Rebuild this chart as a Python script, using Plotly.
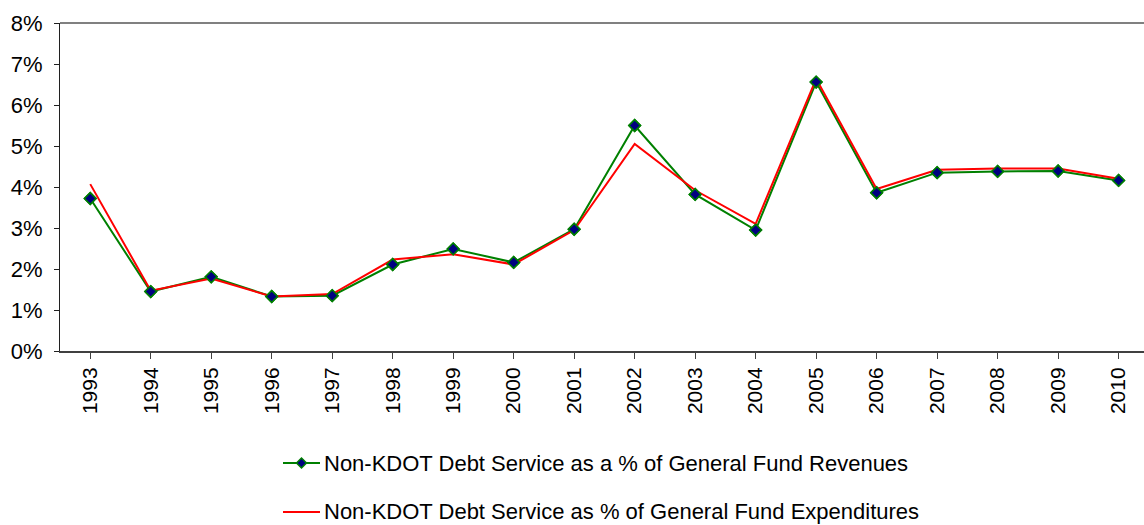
import plotly.graph_objects as go

years = ["1993", "1994", "1995", "1996", "1997", "1998", "1999", "2000", "2001",
         "2002", "2003", "2004", "2005", "2006", "2007", "2008", "2009", "2010"]
revenues_pct = [3.72, 1.45, 1.81, 1.33, 1.35, 2.11, 2.49, 2.16, 2.97,
                5.50, 3.82, 2.95, 6.56, 3.86, 4.35, 4.38, 4.39, 4.16]
expenditures_pct = [4.07, 1.47, 1.77, 1.33, 1.39, 2.23, 2.36, 2.11, 2.95,
                    5.05, 3.92, 3.10, 6.64, 3.95, 4.42, 4.45, 4.45, 4.20]
y_ticks = [0, 1, 2, 3, 4, 5, 6, 7, 8]
y_tick_labels = ["0%", "1%", "2%", "3%", "4%", "5%", "6%", "7%", "8%"]

name_rev = "Non-KDOT Debt Service as a % of General Fund Revenues"
name_exp = "Non-KDOT Debt Service as % of General Fund Expenditures"

GREEN = "#008000"
NAVY = "#000080"
RED = "#FF0000"

x_idx = list(range(len(years)))

# plot area geometry (pixels)
W, H = 1144, 525
L, R, T, B = 60, 0, 23, 174
PW, PH = W - L - R, H - T - B


def px_x(px):
    return (px - L) / PW


def px_y(py):
    return (H - B - py) / PH


fig = go.Figure()
fig.add_trace(go.Scatter(
    x=x_idx, y=revenues_pct, name=name_rev, mode="lines+markers",
    line=dict(color=GREEN, width=2),
    marker=dict(symbol="diamond", size=9, color=NAVY, line=dict(color=GREEN, width=1.5)),
    showlegend=False,
))
fig.add_trace(go.Scatter(
    x=x_idx, y=expenditures_pct, name=name_exp, mode="lines",
    line=dict(color=RED, width=2),
    showlegend=False,
))
fig.add_trace(go.Scatter(
    x=x_idx, y=revenues_pct, mode="markers", showlegend=False,
    marker=dict(symbol="diamond", size=9, color=NAVY, line=dict(color=GREEN, width=1.5)),
    hoverinfo="skip",
))

fig.update_layout(
    width=W, height=H,
    margin=dict(l=L, r=R, t=T, b=B),
    plot_bgcolor="white", paper_bgcolor="white",
    font=dict(family="Liberation Sans, Arial, sans-serif", size=21, color="black"),
    showlegend=False,
    xaxis=dict(
        range=[-0.5, 17.42], automargin=False,
        tickmode="array", tickvals=x_idx, ticktext=years,
        tickangle=-90, showgrid=False, zeroline=False,
        showline=True, linecolor="#404040", linewidth=2,
        ticks="outside", ticklen=6, tickcolor="#404040", tickwidth=1,
        tickson="boundaries",
        tickfont=dict(size=21),
    ),
    yaxis=dict(
        range=[0, 8], automargin=False,
        tickmode="array", tickvals=y_ticks, ticktext=y_tick_labels,
        showgrid=False, zeroline=False,
        showline=True, linecolor="#202020", linewidth=1,
        ticks="outside", ticklen=5, tickcolor="#202020",
        tickfont=dict(size=22), ticklabelstandoff=7,
    ),
)
# top border line of plot area
fig.add_shape(type="line", xref="paper", yref="paper", x0=0, x1=1, y0=1, y1=1,
              line=dict(color="#808080", width=2))

# legend (drawn manually to match the original layout)
legend_rows = [(name_rev, GREEN, True, 463), (name_exp, RED, False, 512)]
for text, color, has_marker, cy in legend_rows:
    fig.add_shape(type="line", xref="paper", yref="paper",
                  x0=px_x(283), x1=px_x(320), y0=px_y(cy), y1=px_y(cy),
                  line=dict(color=color, width=2))
    if has_marker:
        cx, r = 301.5, 5
        path = (f"M {px_x(cx - r)} {px_y(cy)} L {px_x(cx)} {px_y(cy - r)} "
                f"L {px_x(cx + r)} {px_y(cy)} L {px_x(cx)} {px_y(cy + r)} Z")
        fig.add_shape(type="path", xref="paper", yref="paper", path=path,
                      fillcolor=NAVY, line=dict(color=GREEN, width=1.5))
    fig.add_annotation(x=px_x(322), y=px_y(cy), xref="paper", yref="paper",
                       text=text, showarrow=False, xanchor="left", yanchor="middle",
                       font=dict(size=22, color="black"))

fig.write_html("out.html")
